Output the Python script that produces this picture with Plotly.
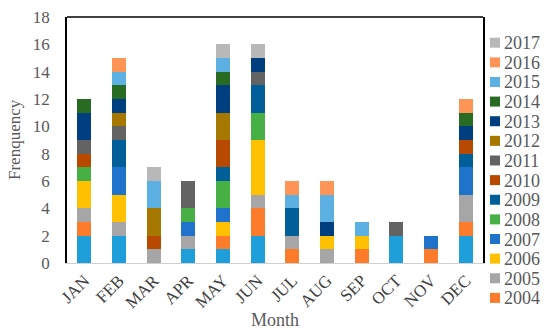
import plotly.graph_objects as go

months = ["JAN", "FEB", "MAR", "APR", "MAY", "JUN", "JUL", "AUG", "SEP", "OCT", "NOV", "DEC"]
years = ["2003", "2004", "2005", "2006", "2007", "2008", "2009", "2010",
         "2011", "2012", "2013", "2014", "2015", "2016", "2017"]

# counts per year, one value per month (JAN..DEC)
y2003 = [2, 2, 0, 1, 1, 2, 0, 0, 0, 2, 0, 2]
y2004 = [1, 0, 0, 0, 1, 2, 1, 0, 1, 0, 1, 1]
y2005 = [1, 1, 1, 1, 0, 1, 1, 1, 0, 0, 0, 2]
y2006 = [2, 2, 0, 0, 1, 4, 0, 1, 1, 0, 0, 0]
y2007 = [0, 2, 0, 1, 1, 0, 0, 0, 0, 0, 1, 2]
y2008 = [1, 0, 0, 1, 2, 2, 0, 0, 0, 0, 0, 0]
y2009 = [0, 2, 0, 0, 1, 2, 2, 0, 0, 0, 0, 1]
y2010 = [1, 0, 1, 0, 2, 0, 0, 0, 0, 0, 0, 1]
y2011 = [1, 1, 0, 2, 0, 1, 0, 0, 0, 1, 0, 0]
y2012 = [0, 1, 2, 0, 2, 0, 0, 0, 0, 0, 0, 0]
y2013 = [2, 1, 0, 0, 2, 1, 0, 1, 0, 0, 0, 1]
y2014 = [1, 1, 0, 0, 1, 0, 0, 0, 0, 0, 0, 1]
y2015 = [0, 1, 2, 0, 1, 0, 1, 2, 1, 0, 0, 0]
y2016 = [0, 1, 0, 0, 0, 0, 1, 1, 0, 0, 0, 1]
y2017 = [0, 0, 1, 0, 1, 1, 0, 0, 0, 0, 0, 0]

series = [y2003, y2004, y2005, y2006, y2007, y2008, y2009, y2010,
          y2011, y2012, y2013, y2014, y2015, y2016, y2017]

colors = ["#1F9FDA", "#FC7C2C", "#A6A6A6", "#FFC000", "#2073CA", "#46B045",
          "#005F99", "#B84A00", "#636363", "#A67800", "#003F7F", "#286B23",
          "#5DB1E2", "#FF9457", "#B8B8B8"]

y_ticks = [0, 2, 4, 6, 8, 10, 12, 14, 16, 18]

FONT = "Liberation Serif, Times New Roman, serif"
GRAY = "#595959"

# plot area in pixels
L, R, T, B = 67, 483, 17, 263
PW, PH = R - L, B - T


def px(xp):
    return (xp - L) / PW


def py(yp):
    return (B - yp) / PH


fig = go.Figure()
for yr, vals, col in zip(years, series, colors):
    fig.add_trace(go.Bar(
        x=months, y=vals, name=yr, marker=dict(color=col, line=dict(width=0)),
        showlegend=False,
    ))

# legend (2017 at top down to 2004), drawn as swatches + text
shapes = [dict(type="line", xref="paper", yref="paper", x0=0, x1=1, y0=1, y1=1,
               line=dict(color="black", width=1.5))]
annotations = [
    dict(text="Month", x=px(275), xref="paper", y=py(320), yref="paper",
         xanchor="center", yanchor="middle", showarrow=False,
         font=dict(size=18, color=GRAY, family=FONT)),
    dict(text="Frenquency", textangle=-90, xref="paper", yref="paper",
         x=px(14), y=py(140), xanchor="center", yanchor="middle", showarrow=False,
         font=dict(size=17, color=GRAY, family=FONT)),
]
legend_years = years[1:][::-1]
legend_colors = colors[1:][::-1]
for i, (yr, col) in enumerate(zip(legend_years, legend_colors)):
    cy = 42.7 + i * 19.63
    shapes.append(dict(type="rect", xref="paper", yref="paper",
                       x0=px(490), x1=px(500), y0=py(cy + 5), y1=py(cy - 5),
                       fillcolor=col, line=dict(width=0)))
    annotations.append(dict(text=yr, xref="paper", yref="paper",
                            x=px(502), y=py(cy + 0.5), xanchor="left", yanchor="middle",
                            showarrow=False, font=dict(size=18, color=GRAY, family=FONT)))

fig.update_layout(
    width=550, height=334,
    barmode="stack", bargap=0.6,
    plot_bgcolor="white", paper_bgcolor="white",
    margin=dict(l=L, r=550 - R, t=T, b=334 - B, autoexpand=False),
    font=dict(family=FONT, color=GRAY),
    showlegend=False,
    xaxis=dict(
        tickangle=-45, tickfont=dict(size=17, color="#404040", family=FONT),
        showline=True, linecolor="#D0D0D0", linewidth=1,
        ticks="", showgrid=False, automargin=False,
    ),
    yaxis=dict(
        range=[0, 18], tickvals=y_ticks, tickfont=dict(size=17, color=GRAY, family=FONT),
        showline=True, linecolor="black", linewidth=1.5, mirror=True,
        ticks="", showgrid=False, zeroline=False, automargin=False,
        ticklabelstandoff=12,
    ),
    annotations=annotations,
    shapes=shapes,
)

fig.write_html("out.html", config={"displayModeBar": False},
               post_script="document.body.style.margin='0';document.body.style.overflow='hidden';")
